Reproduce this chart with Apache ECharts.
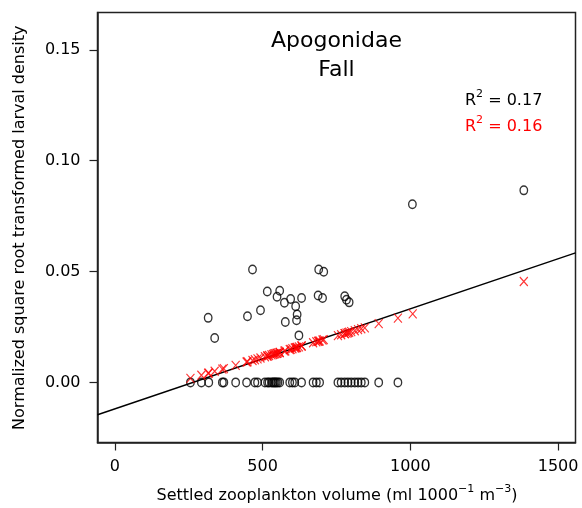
<!DOCTYPE html>
<html><head><meta charset="utf-8">
<script src="https://cdn.jsdelivr.net/npm/echarts@6/dist/echarts.min.js"></script>
<style>html,body{margin:0;padding:0;background:#fff}#c{width:582px;height:508px}</style>
</head><body><div id="c"></div>
<script>
// Observed larval density (positive values)
const posX = [316, 338, 449, 466, 493, 516, 549, 558, 574, 577, 595, 612, 617, 615, 623, 632, 688, 690, 703, 707, 778, 784, 793, 1007, 1384];
const posY = [0.0291, 0.0200, 0.0298, 0.0509, 0.0325, 0.0410, 0.0386, 0.0413, 0.0359, 0.0272, 0.0376, 0.0343, 0.0306, 0.0280, 0.0212, 0.0381, 0.0392, 0.0509, 0.0381, 0.0499, 0.0388, 0.0373, 0.0361, 0.0803, 0.0866];
// Observed zero densities
const zeroX = [256, 293, 318, 364, 369, 409, 446, 474, 483, 508, 517, 522, 530, 535, 539, 543, 547, 552, 558, 592, 601, 609, 632, 671, 682, 693, 755, 766, 778, 789, 800, 812, 823, 834, 846, 893, 958];
// Fitted values (red crosses)
const fitX = [256, 293, 316, 318, 338, 364, 369, 409, 446, 449, 466, 474, 483, 493, 508, 516, 517, 522, 530, 535, 539, 543, 547, 549, 552, 558, 558, 574, 577, 592, 595, 601, 609, 612, 615, 617, 623, 632, 632, 671, 682, 688, 690, 693, 703, 707, 755, 766, 778, 778, 784, 789, 793, 800, 812, 823, 834, 846, 893, 958, 1008, 1384];
const fitY = [0.0018, 0.0032, 0.0041, 0.0042, 0.0050, 0.0060, 0.0062, 0.0077, 0.0092, 0.0093, 0.0099, 0.0102, 0.0106, 0.0110, 0.0116, 0.0119, 0.0119, 0.0121, 0.0124, 0.0126, 0.0128, 0.0129, 0.0131, 0.0131, 0.0133, 0.0135, 0.0135, 0.0141, 0.0142, 0.0148, 0.0149, 0.0152, 0.0155, 0.0156, 0.0157, 0.0158, 0.0160, 0.0164, 0.0164, 0.0179, 0.0183, 0.0185, 0.0186, 0.0187, 0.0191, 0.0193, 0.0211, 0.0215, 0.0220, 0.0220, 0.0222, 0.0224, 0.0226, 0.0229, 0.0233, 0.0238, 0.0242, 0.0246, 0.0265, 0.0290, 0.0309, 0.0455];
// Regression line (black)
const regIntercept = -0.01196;
const regSlope = 0.00004513;
// Axis ticks
const xTicks = [0, 500, 1000, 1500];
const yTicks = [0, 0.05, 0.10, 0.15];
const xMin = -58.5, xMax = 1558.9, yMin = -0.0271, yMax = 0.1668;

const FONT = 'DejaVu Sans';
const chart = echarts.init(document.getElementById('c'), null, {renderer: 'canvas'});

const circles = posX.map((x, i) => [x, posY[i]]).concat(zeroX.map(x => [x, 0]));
const fits = fitX.map((x, i) => [x, fitY[i]]);
const regLine = [[xMin, regIntercept + regSlope * xMin], [xMax, regIntercept + regSlope * xMax]];

const supRich = {
  a: {fontFamily: FONT, fontSize: 16, lineHeight: 20, verticalAlign: 'bottom'},
  s: {fontFamily: FONT, fontSize: 11, lineHeight: 11, verticalAlign: 'top'}
};

chart.setOption({
  animation: false,
  backgroundColor: '#fff',
  grid: {left: 97.5, top: 12.5, right: 6.5, bottom: 65.5, show: true, borderColor: '#222', borderWidth: 1.5, backgroundColor: 'transparent'},
  xAxis: {
    type: 'value', min: xMin, max: xMax,
    axisLine: {show: true, onZero: false, lineStyle: {color: '#222', width: 1.5}},
    splitLine: {show: false},
    axisTick: {show: true, inside: false, length: 8, lineStyle: {color: '#222', width: 1.2}, customValues: xTicks},
    axisLabel: {customValues: xTicks, color: '#000', fontFamily: FONT, fontSize: 16, margin: 16, formatter: v => String(v)}
  },
  yAxis: {
    type: 'value', min: yMin, max: yMax,
    axisLine: {show: true, onZero: false, lineStyle: {color: '#222', width: 1.5}},
    splitLine: {show: false},
    axisTick: {show: true, inside: false, length: 8, lineStyle: {color: '#222', width: 1.2}, customValues: yTicks},
    axisLabel: {customValues: yTicks, color: '#000', fontFamily: FONT, fontSize: 16, margin: 17, formatter: v => v.toFixed(2)}
  },
  series: [
    {type: 'line', data: regLine, symbol: 'none', lineStyle: {color: '#000', width: 1.4}, z: 2, silent: true},
    {type: 'scatter', data: circles, symbol: 'circle', symbolSize: [7.5, 8.5],
     itemStyle: {color: 'rgba(0,0,0,0)', borderColor: '#000', borderWidth: 1.4}, z: 3},
    {type: 'scatter', data: fits, symbol: 'path://M0,0L10,10M10,0L0,10', symbolSize: [8, 9],
     itemStyle: {color: 'rgba(0,0,0,0)', borderColor: '#ff0000', borderWidth: 1.2}, z: 4}
  ],
  graphic: [
    {type: 'text', x: 336.5, y: 41, style: {text: 'Apogonidae', fontFamily: FONT, fontSize: 22, fill: '#000', align: 'center', verticalAlign: 'middle'}},
    {type: 'text', x: 336.5, y: 70, style: {text: 'Fall', fontFamily: FONT, fontSize: 22, fill: '#000', align: 'center', verticalAlign: 'middle'}},
    {type: 'text', x: 465, y: 99, style: {text: '{a|R}{s|2}{a| = 0.17}', rich: supRich, fill: '#000', align: 'left', verticalAlign: 'middle'}},
    {type: 'text', x: 465, y: 125, style: {text: '{a|R}{s|2}{a| = 0.16}', rich: {a: Object.assign({}, supRich.a, {color: '#ff0000'}), s: Object.assign({}, supRich.s, {color: '#ff0000'})}, fill: '#ff0000', align: 'left', verticalAlign: 'middle'}},
    {type: 'text', x: 20, y: 227.7, rotation: Math.PI / 2, style: {text: 'Normalized square root transformed larval density', fontFamily: FONT, fontSize: 16, fill: '#000', align: 'center', verticalAlign: 'middle'}},
    {type: 'text', x: 337, y: 494, style: {text: '{a|Settled zooplankton volume (ml 1000}{s|−1}{a| m}{s|−3}{a|)}', rich: supRich, fill: '#000', align: 'center', verticalAlign: 'middle'}}
  ]
});
</script></body></html>
